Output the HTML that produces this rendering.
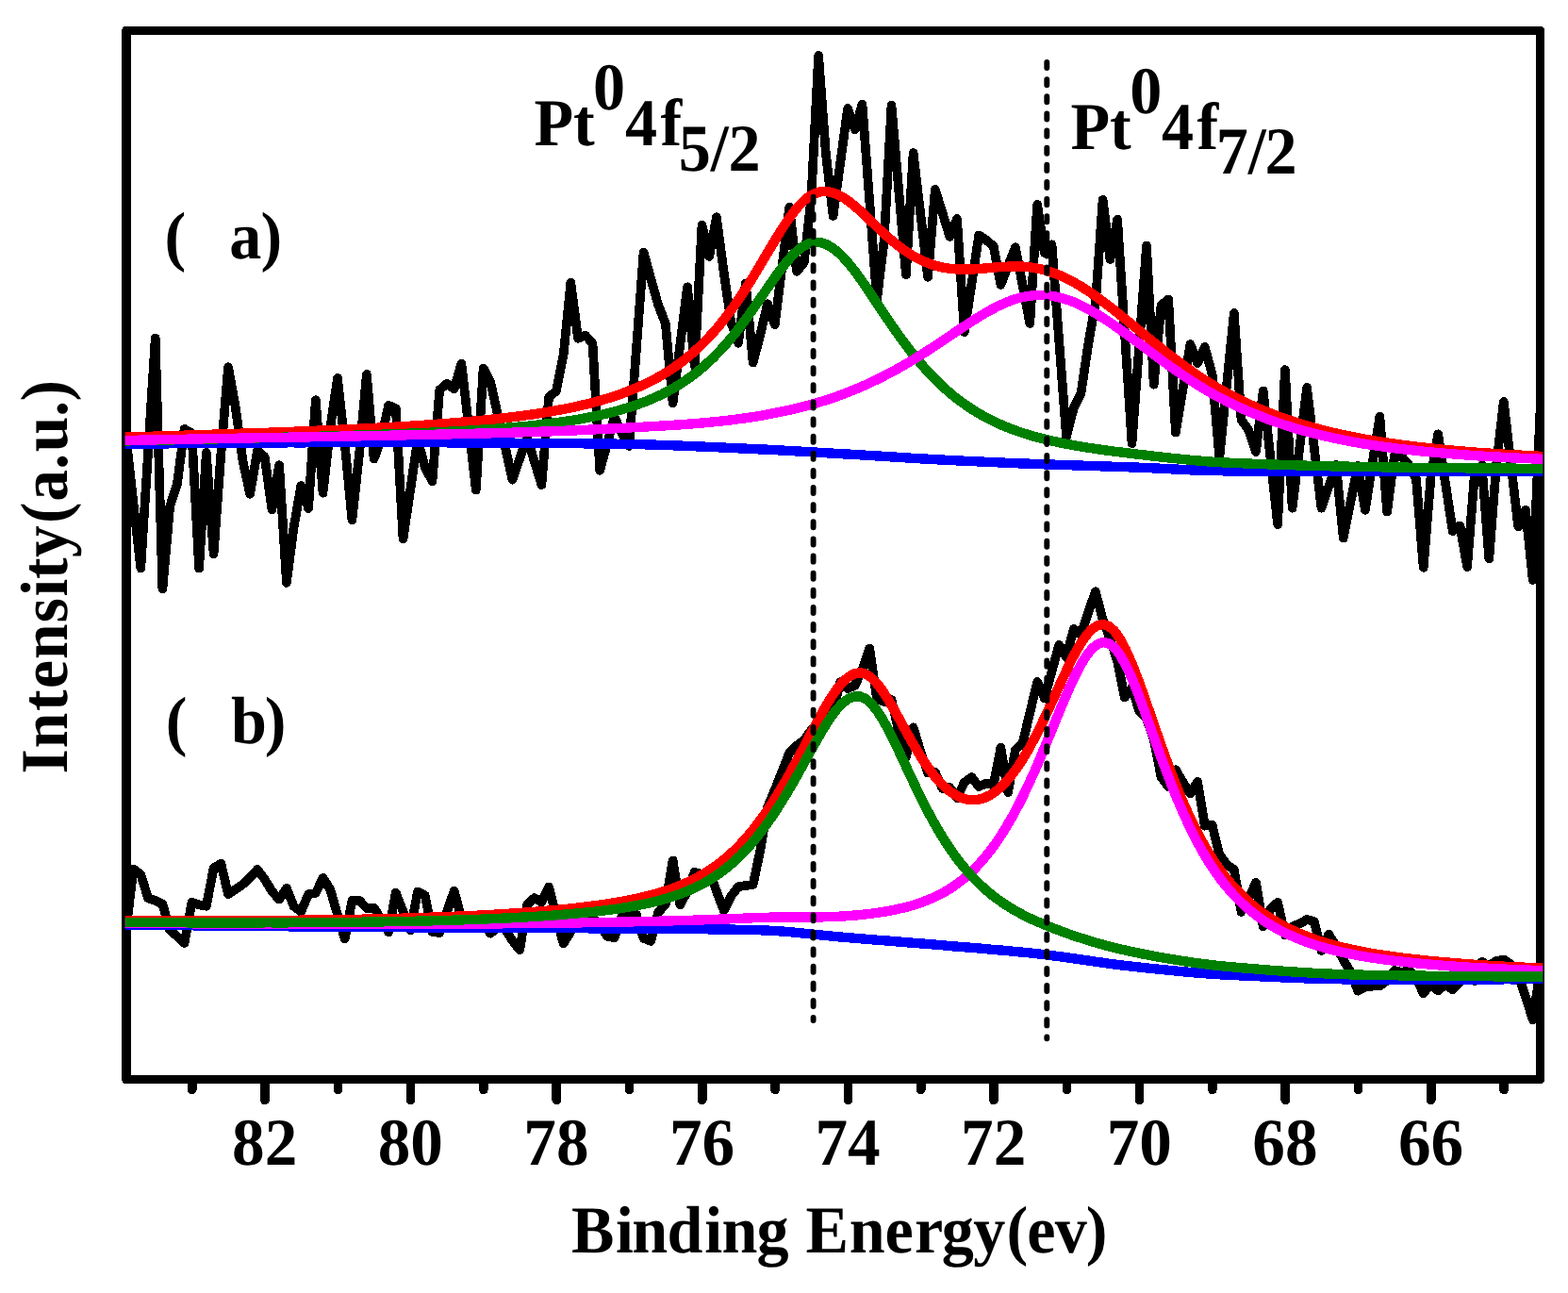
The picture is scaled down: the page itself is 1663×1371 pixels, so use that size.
<!DOCTYPE html>
<html lang="en"><head><meta charset="utf-8"><title>XPS Pt 4f spectra</title>
<style>
html,body{margin:0;padding:0;background:#fff;}
body{width:1663px;height:1371px;overflow:hidden;font-family:"Liberation Serif",serif;}
svg{display:block;}
</style></head><body>
<svg width="1663" height="1371" viewBox="0 0 1663 1371" shape-rendering="crispEdges" text-rendering="geometricPrecision">
<rect x="0" y="0" width="1663" height="1371" fill="#fff"/>
<defs><clipPath id="cp"><rect x="132.7" y="31" width="1503.5" height="1115"/></clipPath></defs>
<rect x="133.8" y="32.5" width="1499.7" height="1112" fill="none" stroke="#000" stroke-width="9.4" stroke-linejoin="round"/>
<g clip-path="url(#cp)" fill="none" stroke-linejoin="round" stroke-linecap="butt">
<polyline points="133.8,465.0 141.5,533.8 149.3,602.6 157.0,480.6 164.7,358.6 172.4,624.5 180.2,537.0 187.9,513.0 195.6,454.9 203.4,459.3 211.1,602.6 218.8,480.0 226.6,587.3 234.3,482.0 242.0,389.2 249.8,432.0 257.5,489.0 265.2,523.8 272.9,477.9 280.7,484.4 288.4,540.2 296.1,493.2 303.9,617.9 311.6,559.0 319.3,515.0 327.1,539.0 334.8,424.2 342.5,522.7 350.2,454.0 358.0,400.8 365.7,471.0 373.4,551.2 381.2,480.0 388.9,396.9 396.6,486.6 404.4,465.0 412.1,429.8 419.8,433.1 427.5,571.5 435.3,518.8 443.0,466.0 450.7,495.5 458.5,510.2 466.2,413.5 473.9,406.9 481.7,412.4 489.4,385.5 497.1,452.6 504.8,519.6 512.6,390.5 520.3,405.8 528.0,440.0 535.8,474.0 543.5,508.7 551.2,486.2 559.0,463.8 566.7,489.0 574.4,514.1 582.1,421.1 589.9,414.6 597.6,376.3 605.3,299.7 613.1,358.8 620.8,355.5 628.5,364.2 636.2,498.8 644.0,470.4 651.7,442.0 659.4,459.4 667.2,473.0 674.9,370.2 682.6,267.5 690.4,296.0 698.1,323.3 705.8,343.0 713.6,427.3 721.3,365.8 729.0,304.3 736.7,387.9 744.5,238.6 752.2,271.9 759.9,230.3 767.7,289.0 775.4,342.0 783.1,363.8 790.9,300.4 798.6,384.6 806.3,355.0 814.0,322.2 821.8,344.1 829.5,282.0 837.2,219.8 845.0,287.8 852.7,278.5 860.4,210.0 868.1,59.0 875.9,163.0 883.6,229.0 891.3,172.0 899.1,115.0 906.8,137.4 914.5,110.7 922.3,214.3 930.0,317.9 937.7,255.0 945.5,111.8 953.2,201.5 960.9,291.2 968.6,162.1 976.4,227.9 984.1,293.8 991.8,201.0 999.6,226.0 1007.3,251.0 1015.0,232.0 1022.8,352.0 1030.5,300.7 1038.2,249.4 1045.9,254.5 1053.7,261.0 1061.4,302.0 1069.1,282.0 1076.9,262.2 1084.6,302.6 1092.3,343.0 1100.1,217.0 1107.8,268.2 1115.5,259.2 1123.2,361.1 1131.0,463.0 1138.7,432.9 1146.4,417.6 1154.2,365.0 1161.9,321.3 1169.6,211.9 1177.4,274.9 1185.1,232.7 1192.8,351.4 1200.5,470.1 1208.3,365.3 1216.0,260.5 1223.7,407.7 1231.5,323.5 1239.2,317.4 1246.9,458.7 1254.7,411.9 1262.4,365.0 1270.1,385.0 1277.8,368.0 1285.6,397.0 1293.3,485.0 1301.0,408.5 1308.8,332.0 1316.5,445.0 1324.2,456.0 1332.0,479.0 1339.7,414.4 1347.4,485.3 1355.1,556.2 1362.9,392.1 1370.6,538.7 1378.3,474.9 1386.1,411.1 1393.8,474.9 1401.5,538.7 1409.2,515.9 1417.0,493.0 1424.7,570.6 1432.4,532.3 1440.2,494.0 1447.9,540.8 1455.6,491.1 1463.4,441.4 1471.1,542.5 1478.8,484.0 1486.5,484.0 1494.3,493.0 1502.0,508.0 1509.7,601.8 1517.5,506.0 1525.2,460.3 1532.9,511.8 1540.7,563.2 1548.4,557.4 1556.1,601.0 1563.9,503.0 1571.6,493.2 1579.3,592.4 1587.0,493.2 1594.8,426.0 1602.5,492.2 1610.2,558.4 1618.0,540.7 1625.7,615.0 1633.4,437.0" stroke="#000" stroke-width="9.7"/>
<polyline points="133.8,985.0 141.5,921.5 149.3,927.3 157.0,952.2 164.7,954.9 172.4,958.5 180.2,986.4 187.9,992.8 195.6,1000.0 203.4,956.7 211.1,959.4 218.8,960.8 226.6,920.6 234.3,915.5 242.0,948.2 249.8,943.0 257.5,937.7 265.2,930.5 272.9,921.9 280.7,932.3 288.4,945.0 296.1,953.6 303.9,941.7 311.6,961.0 319.3,966.6 327.1,948.2 334.8,947.1 342.5,930.9 350.2,943.1 358.0,970.0 365.7,995.5 373.4,954.9 381.2,954.9 388.9,963.0 396.6,962.6 404.4,975.0 412.1,988.4 419.8,946.6 427.5,966.5 435.3,986.4 443.0,945.5 450.7,949.5 458.5,987.9 466.2,989.1 473.9,966.9 481.7,944.6 489.4,973.8 497.1,977.0 504.8,977.0 512.6,981.0 520.3,989.7 528.0,982.8 535.8,985.5 543.5,997.3 551.2,1007.2 559.0,959.4 566.7,952.2 574.4,956.7 582.1,940.4 589.9,972.0 597.6,1000.5 605.3,988.0 613.1,975.6 620.8,972.0 628.5,972.9 636.2,981.0 644.0,992.8 651.7,994.2 659.4,972.0 667.2,969.8 674.9,969.8 682.6,995.0 690.4,997.8 698.1,967.6 705.8,958.8 713.6,912.4 721.3,959.5 729.0,945.0 736.7,924.9 744.5,927.0 752.2,923.4 759.9,945.0 767.7,965.4 775.4,950.0 783.1,940.2 790.9,939.0 798.6,938.0 806.3,902.0 814.0,856.0 821.8,837.4 829.5,818.0 837.2,798.3 845.0,790.5 852.7,785.0 860.4,774.0 868.1,768.5 875.9,766.7 883.6,754.0 891.3,723.0 899.1,730.2 906.8,726.6 914.5,710.0 922.3,687.4 930.0,741.2 937.7,744.0 945.5,742.0 953.2,775.8 960.9,802.3 968.6,771.3 976.4,797.0 984.1,819.6 991.8,818.7 999.6,836.0 1007.3,835.0 1015.0,846.0 1022.8,829.6 1030.5,824.1 1038.2,834.2 1045.9,830.5 1053.7,832.4 1061.4,792.7 1069.1,840.2 1076.9,795.0 1084.6,787.8 1092.3,755.9 1100.1,723.0 1107.8,740.4 1115.5,712.0 1123.2,683.9 1131.0,697.2 1138.7,666.9 1146.4,672.9 1154.2,649.2 1161.9,627.3 1169.6,657.0 1177.4,677.5 1185.1,701.2 1192.8,739.5 1200.5,729.0 1208.3,754.0 1216.0,762.0 1223.7,784.0 1231.5,824.0 1239.2,834.3 1246.9,816.2 1254.7,829.5 1262.4,841.6 1270.1,828.8 1277.8,875.7 1285.6,874.8 1293.3,905.8 1301.0,916.7 1308.8,922.2 1316.5,966.8 1324.2,953.0 1332.0,935.8 1339.7,982.3 1347.4,964.0 1355.1,956.8 1362.9,991.5 1370.6,982.3 1378.3,979.6 1386.1,975.0 1393.8,977.0 1401.5,1007.9 1409.2,990.7 1417.0,1003.0 1424.7,1017.8 1432.4,1030.4 1440.2,1050.7 1447.9,1046.8 1455.6,1045.7 1463.4,1045.2 1471.1,1039.7 1478.8,1029.0 1486.5,1031.0 1494.3,1029.0 1502.0,1036.6 1509.7,1053.5 1517.5,1043.0 1525.2,1050.4 1532.9,1043.8 1540.7,1049.4 1548.4,1041.3 1556.1,1036.6 1563.9,1040.0 1571.6,1019.9 1579.3,1024.0 1587.0,1019.0 1594.8,1017.5 1602.5,1022.5 1610.2,1033.5 1618.0,1057.0 1625.7,1081.2 1633.4,1030.0" stroke="#000" stroke-width="9.7"/>
<path d="M126.0,471.0 L132.0,470.9 L138.0,470.8 L144.0,470.7 L150.0,470.6 L156.0,470.6 L162.0,470.5 L168.0,470.4 L174.0,470.4 L180.0,470.3 L186.0,470.2 L192.0,470.2 L198.0,470.1 L204.0,470.1 L210.0,470.0 L216.0,470.0 L222.0,469.9 L228.0,469.8 L234.0,469.8 L240.0,469.7 L246.0,469.7 L252.0,469.7 L258.0,469.6 L264.0,469.6 L270.0,469.5 L276.0,469.5 L282.0,469.5 L288.0,469.4 L294.0,469.4 L300.0,469.4 L306.0,469.3 L312.0,469.3 L318.0,469.3 L324.0,469.3 L330.0,469.2 L336.0,469.2 L342.0,469.2 L348.0,469.2 L354.0,469.2 L360.0,469.2 L366.0,469.2 L372.0,469.1 L378.0,469.1 L384.0,469.1 L390.0,469.1 L396.0,469.1 L402.0,469.1 L408.0,469.1 L414.0,469.1 L420.0,469.1 L426.0,469.1 L432.0,469.2 L438.0,469.2 L444.0,469.2 L450.0,469.2 L456.0,469.2 L462.0,469.2 L468.0,469.3 L474.0,469.3 L480.0,469.3 L486.0,469.3 L492.0,469.4 L498.0,469.4 L504.0,469.4 L510.0,469.5 L516.0,469.5 L522.0,469.5 L528.0,469.6 L534.0,469.6 L540.0,469.6 L546.0,469.7 L552.0,469.7 L558.0,469.8 L564.0,469.8 L570.0,469.9 L576.0,469.9 L582.0,470.0 L588.0,470.0 L594.0,470.1 L600.0,470.1 L606.0,470.2 L612.0,470.2 L618.0,470.3 L624.0,470.4 L630.0,470.4 L636.0,470.5 L642.0,470.6 L648.0,470.6 L654.0,470.7 L660.0,470.8 L666.0,470.9 L672.0,471.0 L678.0,471.2 L684.0,471.3 L690.0,471.5 L696.0,471.7 L702.0,471.9 L708.0,472.1 L714.0,472.3 L720.0,472.5 L726.0,472.8 L732.0,473.0 L738.0,473.3 L744.0,473.5 L750.0,473.8 L756.0,474.1 L762.0,474.3 L768.0,474.6 L774.0,474.9 L780.0,475.2 L786.0,475.4 L792.0,475.7 L798.0,476.0 L804.0,476.3 L810.0,476.5 L816.0,476.8 L822.0,477.1 L828.0,477.5 L834.0,477.8 L840.0,478.1 L846.0,478.5 L852.0,478.8 L858.0,479.1 L864.0,479.5 L870.0,479.9 L876.0,480.2 L882.0,480.6 L888.0,480.9 L894.0,481.3 L900.0,481.6 L906.0,482.0 L912.0,482.3 L918.0,482.7 L924.0,483.0 L930.0,483.4 L936.0,483.8 L942.0,484.2 L948.0,484.5 L954.0,484.9 L960.0,485.3 L966.0,485.7 L972.0,486.0 L978.0,486.4 L984.0,486.7 L990.0,487.0 L996.0,487.4 L1002.0,487.7 L1008.0,488.0 L1014.0,488.3 L1020.0,488.6 L1026.0,488.9 L1032.0,489.1 L1038.0,489.4 L1044.0,489.7 L1050.0,490.0 L1056.0,490.2 L1062.0,490.5 L1068.0,490.8 L1074.0,491.0 L1080.0,491.3 L1086.0,491.5 L1092.0,491.7 L1098.0,492.0 L1104.0,492.2 L1110.0,492.4 L1116.0,492.6 L1122.0,492.8 L1128.0,493.0 L1134.0,493.2 L1140.0,493.4 L1146.0,493.6 L1152.0,493.8 L1158.0,494.0 L1164.0,494.2 L1170.0,494.4 L1176.0,494.6 L1182.0,494.8 L1188.0,495.0 L1194.0,495.2 L1200.0,495.4 L1206.0,495.6 L1212.0,495.9 L1218.0,496.1 L1224.0,496.4 L1230.0,496.7 L1236.0,497.0 L1242.0,497.3 L1248.0,497.6 L1254.0,497.9 L1260.0,498.2 L1266.0,498.5 L1272.0,498.7 L1278.0,498.9 L1284.0,499.1 L1290.0,499.2 L1296.0,499.3 L1302.0,499.4 L1308.0,499.4 L1314.0,499.5 L1320.0,499.5 L1326.0,499.6 L1332.0,499.6 L1338.0,499.7 L1344.0,499.7 L1350.0,499.7 L1356.0,499.8 L1362.0,499.8 L1368.0,499.8 L1374.0,499.9 L1380.0,499.9 L1386.0,499.9 L1392.0,500.0 L1398.0,500.0 L1404.0,500.0 L1410.0,500.0 L1416.0,500.0 L1422.0,500.0 L1428.0,500.0 L1434.0,500.1 L1440.0,500.1 L1446.0,500.1 L1452.0,500.1 L1458.0,500.1 L1464.0,500.1 L1470.0,500.1 L1476.0,500.1 L1482.0,500.1 L1488.0,500.1 L1494.0,500.0 L1500.0,500.0 L1506.0,500.0 L1512.0,500.0 L1518.0,500.0 L1524.0,500.0 L1530.0,500.0 L1536.0,500.0 L1542.0,500.0 L1548.0,500.0 L1554.0,500.0 L1560.0,500.0 L1566.0,499.9 L1572.0,499.9 L1578.0,499.9 L1584.0,499.9 L1590.0,499.9 L1596.0,499.9 L1602.0,499.8 L1608.0,499.8 L1614.0,499.8 L1620.0,499.8 L1626.0,499.7 L1632.0,499.7 L1638.0,499.7" stroke="#0000ff" stroke-width="10.4"/>
<path d="M126.0,463.8 L132.0,463.6 L138.0,463.4 L144.0,463.2 L150.0,463.1 L156.0,462.9 L162.0,462.7 L168.0,462.5 L174.0,462.3 L180.0,462.2 L186.0,462.0 L192.0,461.8 L198.0,461.6 L204.0,461.4 L210.0,461.2 L216.0,461.0 L222.0,460.8 L228.0,460.6 L234.0,460.4 L240.0,460.2 L246.0,460.0 L252.0,459.8 L258.0,459.6 L264.0,459.4 L270.0,459.2 L276.0,459.0 L282.0,458.8 L288.0,458.6 L294.0,458.4 L300.0,458.1 L306.0,457.9 L312.0,457.7 L318.0,457.4 L324.0,457.2 L330.0,457.0 L336.0,456.7 L342.0,456.5 L348.0,456.2 L354.0,455.9 L360.0,455.7 L366.0,455.4 L372.0,455.1 L378.0,454.8 L384.0,454.5 L390.0,454.2 L396.0,453.9 L402.0,453.6 L408.0,453.3 L414.0,452.9 L420.0,452.6 L426.0,452.2 L432.0,451.9 L438.0,451.5 L444.0,451.1 L450.0,450.7 L456.0,450.3 L462.0,449.9 L468.0,449.4 L474.0,449.0 L480.0,448.5 L486.0,448.0 L492.0,447.5 L498.0,447.0 L504.0,446.4 L510.0,445.9 L516.0,445.3 L522.0,444.6 L528.0,444.0 L534.0,443.3 L540.0,442.6 L546.0,441.9 L552.0,441.1 L558.0,440.3 L564.0,439.5 L570.0,438.6 L576.0,437.6 L582.0,436.7 L588.0,435.6 L594.0,434.5 L600.0,433.4 L606.0,432.2 L612.0,430.9 L618.0,429.5 L624.0,428.1 L630.0,426.5 L636.0,424.9 L642.0,423.1 L648.0,421.3 L654.0,419.3 L660.0,417.2 L666.0,414.9 L672.0,412.5 L678.0,410.0 L684.0,407.2 L690.0,404.3 L696.0,401.1 L702.0,397.7 L708.0,394.1 L714.0,390.2 L720.0,386.0 L726.0,381.4 L732.0,376.5 L738.0,371.3 L744.0,365.6 L750.0,359.6 L756.0,353.1 L762.0,346.1 L768.0,338.7 L774.0,330.8 L780.0,322.4 L786.0,313.6 L792.0,304.4 L798.0,294.8 L804.0,284.9 L810.0,274.8 L816.0,264.7 L822.0,254.7 L828.0,244.9 L834.0,235.7 L840.0,227.2 L846.0,219.7 L852.0,213.4 L858.0,208.5 L864.0,205.2 L870.0,203.3 L876.0,203.0 L882.0,203.9 L888.0,206.0 L894.0,209.2 L900.0,213.3 L906.0,218.0 L912.0,223.3 L918.0,228.9 L924.0,234.7 L930.0,240.5 L936.0,246.2 L942.0,251.6 L948.0,256.8 L954.0,261.6 L960.0,265.9 L966.0,269.9 L972.0,273.4 L978.0,276.4 L984.0,278.9 L990.0,281.0 L996.0,282.7 L1002.0,284.0 L1008.0,284.9 L1014.0,285.4 L1020.0,285.6 L1026.0,285.6 L1032.0,285.4 L1038.0,285.0 L1044.0,284.6 L1050.0,284.0 L1056.0,283.5 L1062.0,283.0 L1068.0,282.7 L1074.0,282.5 L1080.0,282.5 L1086.0,282.7 L1092.0,283.3 L1098.0,284.2 L1104.0,285.4 L1110.0,286.9 L1116.0,288.9 L1122.0,291.1 L1128.0,293.7 L1134.0,296.6 L1140.0,299.9 L1146.0,303.4 L1152.0,307.2 L1158.0,311.2 L1164.0,315.5 L1170.0,319.9 L1176.0,324.4 L1182.0,329.1 L1188.0,333.9 L1194.0,338.8 L1200.0,343.7 L1206.0,348.6 L1212.0,353.5 L1218.0,358.4 L1224.0,363.3 L1230.0,368.1 L1236.0,372.9 L1242.0,377.5 L1248.0,382.1 L1254.0,386.6 L1260.0,390.9 L1266.0,395.1 L1272.0,399.2 L1278.0,403.1 L1284.0,406.8 L1290.0,410.5 L1296.0,413.9 L1302.0,417.2 L1308.0,420.3 L1314.0,423.4 L1320.0,426.3 L1326.0,429.1 L1332.0,431.8 L1338.0,434.4 L1344.0,436.8 L1350.0,439.2 L1356.0,441.5 L1362.0,443.6 L1368.0,445.7 L1374.0,447.7 L1380.0,449.6 L1386.0,451.4 L1392.0,453.1 L1398.0,454.7 L1404.0,456.3 L1410.0,457.8 L1416.0,459.2 L1422.0,460.6 L1428.0,461.9 L1434.0,463.1 L1440.0,464.3 L1446.0,465.4 L1452.0,466.4 L1458.0,467.5 L1464.0,468.4 L1470.0,469.3 L1476.0,470.2 L1482.0,471.1 L1488.0,471.9 L1494.0,472.6 L1500.0,473.4 L1506.0,474.1 L1512.0,474.7 L1518.0,475.4 L1524.0,476.0 L1530.0,476.6 L1536.0,477.2 L1542.0,477.7 L1548.0,478.2 L1554.0,478.7 L1560.0,479.2 L1566.0,479.7 L1572.0,480.1 L1578.0,480.5 L1584.0,480.9 L1590.0,481.3 L1596.0,481.7 L1602.0,482.1 L1608.0,482.4 L1614.0,482.7 L1620.0,483.1 L1626.0,483.4 L1632.0,483.7 L1638.0,484.0" stroke="#ff0000" stroke-width="10.4"/>
<path d="M126.0,467.6 L132.0,467.5 L138.0,467.3 L144.0,467.2 L150.0,467.1 L156.0,466.9 L162.0,466.8 L168.0,466.7 L174.0,466.5 L180.0,466.4 L186.0,466.3 L192.0,466.2 L198.0,466.0 L204.0,465.9 L210.0,465.8 L216.0,465.6 L222.0,465.5 L228.0,465.4 L234.0,465.2 L240.0,465.1 L246.0,465.0 L252.0,464.8 L258.0,464.7 L264.0,464.6 L270.0,464.4 L276.0,464.3 L282.0,464.1 L288.0,464.0 L294.0,463.9 L300.0,463.7 L306.0,463.6 L312.0,463.4 L318.0,463.3 L324.0,463.1 L330.0,463.0 L336.0,462.8 L342.0,462.6 L348.0,462.5 L354.0,462.3 L360.0,462.1 L366.0,462.0 L372.0,461.8 L378.0,461.6 L384.0,461.4 L390.0,461.2 L396.0,461.0 L402.0,460.8 L408.0,460.6 L414.0,460.4 L420.0,460.2 L426.0,459.9 L432.0,459.7 L438.0,459.5 L444.0,459.2 L450.0,459.0 L456.0,458.7 L462.0,458.4 L468.0,458.1 L474.0,457.8 L480.0,457.5 L486.0,457.2 L492.0,456.9 L498.0,456.5 L504.0,456.1 L510.0,455.7 L516.0,455.3 L522.0,454.9 L528.0,454.5 L534.0,454.0 L540.0,453.5 L546.0,453.0 L552.0,452.4 L558.0,451.9 L564.0,451.3 L570.0,450.6 L576.0,449.9 L582.0,449.2 L588.0,448.4 L594.0,447.6 L600.0,446.8 L606.0,445.9 L612.0,444.9 L618.0,443.8 L624.0,442.7 L630.0,441.5 L636.0,440.2 L642.0,438.8 L648.0,437.4 L654.0,435.8 L660.0,434.1 L666.0,432.2 L672.0,430.3 L678.0,428.2 L684.0,426.0 L690.0,423.5 L696.0,420.9 L702.0,418.1 L708.0,415.0 L714.0,411.7 L720.0,408.1 L726.0,404.2 L732.0,400.0 L738.0,395.5 L744.0,390.6 L750.0,385.3 L756.0,379.7 L762.0,373.6 L768.0,367.1 L774.0,360.2 L780.0,352.9 L786.0,345.1 L792.0,337.1 L798.0,328.6 L804.0,320.0 L810.0,311.2 L816.0,302.5 L822.0,293.9 L828.0,285.7 L834.0,278.1 L840.0,271.2 L846.0,265.5 L852.0,261.1 L858.0,258.1 L864.0,256.7 L870.0,257.1 L876.0,258.9 L882.0,262.2 L888.0,266.7 L894.0,272.5 L900.0,279.2 L906.0,286.7 L912.0,294.9 L918.0,303.5 L924.0,312.4 L930.0,321.4 L936.0,330.4 L942.0,339.4 L948.0,348.1 L954.0,356.6 L960.0,364.8 L966.0,372.6 L972.0,380.1 L978.0,387.2 L984.0,394.0 L990.0,400.3 L996.0,406.3 L1002.0,411.8 L1008.0,417.1 L1014.0,422.0 L1020.0,426.5 L1026.0,430.7 L1032.0,434.7 L1038.0,438.3 L1044.0,441.7 L1050.0,444.9 L1056.0,447.8 L1062.0,450.5 L1068.0,453.0 L1074.0,455.3 L1080.0,457.5 L1086.0,459.5 L1092.0,461.4 L1098.0,463.1 L1104.0,464.7 L1110.0,466.2 L1116.0,467.6 L1122.0,468.9 L1128.0,470.2 L1134.0,471.3 L1140.0,472.4 L1146.0,473.4 L1152.0,474.4 L1158.0,475.3 L1164.0,476.2 L1170.0,477.1 L1176.0,477.9 L1182.0,478.7 L1188.0,479.4 L1194.0,480.2 L1200.0,480.9 L1206.0,481.6 L1212.0,482.3 L1218.0,483.0 L1224.0,483.7 L1230.0,484.4 L1236.0,485.0 L1242.0,485.7 L1248.0,486.3 L1254.0,487.0 L1260.0,487.5 L1266.0,488.1 L1272.0,488.6 L1278.0,489.1 L1284.0,489.6 L1290.0,490.0 L1296.0,490.3 L1302.0,490.6 L1308.0,490.9 L1314.0,491.1 L1320.0,491.4 L1326.0,491.6 L1332.0,491.9 L1338.0,492.1 L1344.0,492.3 L1350.0,492.5 L1356.0,492.7 L1362.0,492.9 L1368.0,493.1 L1374.0,493.3 L1380.0,493.5 L1386.0,493.7 L1392.0,493.8 L1398.0,494.0 L1404.0,494.1 L1410.0,494.3 L1416.0,494.4 L1422.0,494.5 L1428.0,494.6 L1434.0,494.8 L1440.0,494.9 L1446.0,495.0 L1452.0,495.1 L1458.0,495.2 L1464.0,495.3 L1470.0,495.4 L1476.0,495.5 L1482.0,495.5 L1488.0,495.6 L1494.0,495.7 L1500.0,495.8 L1506.0,495.9 L1512.0,495.9 L1518.0,496.0 L1524.0,496.1 L1530.0,496.1 L1536.0,496.2 L1542.0,496.2 L1548.0,496.3 L1554.0,496.3 L1560.0,496.4 L1566.0,496.4 L1572.0,496.5 L1578.0,496.5 L1584.0,496.6 L1590.0,496.6 L1596.0,496.6 L1602.0,496.6 L1608.0,496.7 L1614.0,496.7 L1620.0,496.7 L1626.0,496.7 L1632.0,496.7 L1638.0,496.8" stroke="#008000" stroke-width="10.4"/>
<path d="M126.0,467.1 L132.0,467.0 L138.0,466.9 L144.0,466.8 L150.0,466.6 L156.0,466.5 L162.0,466.4 L168.0,466.3 L174.0,466.2 L180.0,466.0 L186.0,465.9 L192.0,465.8 L198.0,465.7 L204.0,465.6 L210.0,465.5 L216.0,465.3 L222.0,465.2 L228.0,465.1 L234.0,465.0 L240.0,464.9 L246.0,464.8 L252.0,464.7 L258.0,464.6 L264.0,464.5 L270.0,464.3 L276.0,464.2 L282.0,464.1 L288.0,464.0 L294.0,463.9 L300.0,463.8 L306.0,463.7 L312.0,463.6 L318.0,463.5 L324.0,463.4 L330.0,463.3 L336.0,463.1 L342.0,463.0 L348.0,462.9 L354.0,462.8 L360.0,462.7 L366.0,462.6 L372.0,462.5 L378.0,462.4 L384.0,462.3 L390.0,462.1 L396.0,462.0 L402.0,461.9 L408.0,461.8 L414.0,461.7 L420.0,461.6 L426.0,461.4 L432.0,461.3 L438.0,461.2 L444.0,461.1 L450.0,460.9 L456.0,460.8 L462.0,460.7 L468.0,460.6 L474.0,460.4 L480.0,460.3 L486.0,460.2 L492.0,460.0 L498.0,459.9 L504.0,459.7 L510.0,459.6 L516.0,459.4 L522.0,459.3 L528.0,459.1 L534.0,458.9 L540.0,458.8 L546.0,458.6 L552.0,458.4 L558.0,458.2 L564.0,458.0 L570.0,457.8 L576.0,457.6 L582.0,457.4 L588.0,457.2 L594.0,457.0 L600.0,456.7 L606.0,456.5 L612.0,456.3 L618.0,456.0 L624.0,455.7 L630.0,455.4 L636.0,455.1 L642.0,454.8 L648.0,454.5 L654.0,454.2 L660.0,453.9 L666.0,453.6 L672.0,453.2 L678.0,452.9 L684.0,452.6 L690.0,452.2 L696.0,451.9 L702.0,451.5 L708.0,451.2 L714.0,450.8 L720.0,450.4 L726.0,450.0 L732.0,449.5 L738.0,449.1 L744.0,448.5 L750.0,448.0 L756.0,447.4 L762.0,446.8 L768.0,446.2 L774.0,445.5 L780.0,444.7 L786.0,443.9 L792.0,443.1 L798.0,442.2 L804.0,441.2 L810.0,440.2 L816.0,439.1 L822.0,437.9 L828.0,436.7 L834.0,435.4 L840.0,434.1 L846.0,432.7 L852.0,431.2 L858.0,429.6 L864.0,427.9 L870.0,426.1 L876.0,424.3 L882.0,422.3 L888.0,420.2 L894.0,418.0 L900.0,415.7 L906.0,413.3 L912.0,410.8 L918.0,408.1 L924.0,405.4 L930.0,402.5 L936.0,399.5 L942.0,396.4 L948.0,393.2 L954.0,389.9 L960.0,386.5 L966.0,382.9 L972.0,379.3 L978.0,375.5 L984.0,371.7 L990.0,367.8 L996.0,363.8 L1002.0,359.8 L1008.0,355.8 L1014.0,351.7 L1020.0,347.7 L1026.0,343.8 L1032.0,339.9 L1038.0,336.1 L1044.0,332.5 L1050.0,329.1 L1056.0,325.9 L1062.0,323.0 L1068.0,320.4 L1074.0,318.1 L1080.0,316.2 L1086.0,314.7 L1092.0,313.7 L1098.0,313.0 L1104.0,312.9 L1110.0,313.1 L1116.0,313.9 L1122.0,315.0 L1128.0,316.6 L1134.0,318.5 L1140.0,320.9 L1146.0,323.6 L1152.0,326.6 L1158.0,329.9 L1164.0,333.4 L1170.0,337.2 L1176.0,341.1 L1182.0,345.2 L1188.0,349.5 L1194.0,353.8 L1200.0,358.2 L1206.0,362.6 L1212.0,367.1 L1218.0,371.6 L1224.0,376.0 L1230.0,380.5 L1236.0,384.9 L1242.0,389.2 L1248.0,393.4 L1254.0,397.5 L1260.0,401.5 L1266.0,405.4 L1272.0,409.2 L1278.0,412.9 L1284.0,416.4 L1290.0,419.7 L1296.0,422.9 L1302.0,426.0 L1308.0,428.9 L1314.0,431.7 L1320.0,434.4 L1326.0,437.0 L1332.0,439.5 L1338.0,441.9 L1344.0,444.2 L1350.0,446.4 L1356.0,448.5 L1362.0,450.5 L1368.0,452.4 L1374.0,454.3 L1380.0,456.0 L1386.0,457.7 L1392.0,459.2 L1398.0,460.7 L1404.0,462.2 L1410.0,463.5 L1416.0,464.8 L1422.0,466.1 L1428.0,467.3 L1434.0,468.4 L1440.0,469.4 L1446.0,470.5 L1452.0,471.4 L1458.0,472.3 L1464.0,473.2 L1470.0,474.0 L1476.0,474.8 L1482.0,475.6 L1488.0,476.3 L1494.0,477.0 L1500.0,477.6 L1506.0,478.3 L1512.0,478.9 L1518.0,479.4 L1524.0,480.0 L1530.0,480.5 L1536.0,481.0 L1542.0,481.5 L1548.0,481.9 L1554.0,482.4 L1560.0,482.8 L1566.0,483.2 L1572.0,483.6 L1578.0,483.9 L1584.0,484.3 L1590.0,484.6 L1596.0,484.9 L1602.0,485.3 L1608.0,485.6 L1614.0,485.8 L1620.0,486.1 L1626.0,486.4 L1632.0,486.6 L1638.0,486.9" stroke="#ff00ff" stroke-width="10.4"/>
<path d="M126.0,980.4 L132.0,980.5 L138.0,980.5 L144.0,980.6 L150.0,980.7 L156.0,980.8 L162.0,980.8 L168.0,980.9 L174.0,981.0 L180.0,981.0 L186.0,981.1 L192.0,981.2 L198.0,981.2 L204.0,981.3 L210.0,981.4 L216.0,981.4 L222.0,981.5 L228.0,981.6 L234.0,981.6 L240.0,981.7 L246.0,981.8 L252.0,981.8 L258.0,981.9 L264.0,981.9 L270.0,982.0 L276.0,982.1 L282.0,982.1 L288.0,982.2 L294.0,982.2 L300.0,982.3 L306.0,982.3 L312.0,982.4 L318.0,982.5 L324.0,982.5 L330.0,982.6 L336.0,982.6 L342.0,982.7 L348.0,982.7 L354.0,982.8 L360.0,982.8 L366.0,982.9 L372.0,982.9 L378.0,983.0 L384.0,983.0 L390.0,983.0 L396.0,983.1 L402.0,983.1 L408.0,983.2 L414.0,983.2 L420.0,983.2 L426.0,983.3 L432.0,983.3 L438.0,983.4 L444.0,983.4 L450.0,983.4 L456.0,983.5 L462.0,983.5 L468.0,983.5 L474.0,983.5 L480.0,983.6 L486.0,983.6 L492.0,983.6 L498.0,983.7 L504.0,983.7 L510.0,983.7 L516.0,983.7 L522.0,983.8 L528.0,983.8 L534.0,983.8 L540.0,983.9 L546.0,983.9 L552.0,983.9 L558.0,983.9 L564.0,984.0 L570.0,984.0 L576.0,984.0 L582.0,984.1 L588.0,984.1 L594.0,984.1 L600.0,984.2 L606.0,984.2 L612.0,984.2 L618.0,984.3 L624.0,984.3 L630.0,984.3 L636.0,984.4 L642.0,984.4 L648.0,984.5 L654.0,984.5 L660.0,984.6 L666.0,984.6 L672.0,984.6 L678.0,984.7 L684.0,984.7 L690.0,984.8 L696.0,984.8 L702.0,984.9 L708.0,984.9 L714.0,984.9 L720.0,985.0 L726.0,985.1 L732.0,985.1 L738.0,985.2 L744.0,985.2 L750.0,985.3 L756.0,985.4 L762.0,985.4 L768.0,985.5 L774.0,985.6 L780.0,985.7 L786.0,985.8 L792.0,985.9 L798.0,986.0 L804.0,986.2 L810.0,986.4 L816.0,986.7 L822.0,987.0 L828.0,987.4 L834.0,987.9 L840.0,988.4 L846.0,989.0 L852.0,989.6 L858.0,990.2 L864.0,990.8 L870.0,991.4 L876.0,992.0 L882.0,992.6 L888.0,993.2 L894.0,993.7 L900.0,994.2 L906.0,994.7 L912.0,995.2 L918.0,995.7 L924.0,996.2 L930.0,996.7 L936.0,997.1 L942.0,997.6 L948.0,998.1 L954.0,998.6 L960.0,999.1 L966.0,999.6 L972.0,1000.0 L978.0,1000.5 L984.0,1001.0 L990.0,1001.5 L996.0,1002.0 L1002.0,1002.5 L1008.0,1003.1 L1014.0,1003.6 L1020.0,1004.1 L1026.0,1004.5 L1032.0,1005.0 L1038.0,1005.5 L1044.0,1006.0 L1050.0,1006.6 L1056.0,1007.1 L1062.0,1007.6 L1068.0,1008.1 L1074.0,1008.7 L1080.0,1009.3 L1086.0,1009.8 L1092.0,1010.4 L1098.0,1011.1 L1104.0,1011.7 L1110.0,1012.4 L1116.0,1013.2 L1122.0,1014.0 L1128.0,1014.8 L1134.0,1015.6 L1140.0,1016.5 L1146.0,1017.4 L1152.0,1018.2 L1158.0,1019.1 L1164.0,1020.0 L1170.0,1020.8 L1176.0,1021.7 L1182.0,1022.5 L1188.0,1023.2 L1194.0,1024.0 L1200.0,1024.6 L1206.0,1025.3 L1212.0,1025.9 L1218.0,1026.6 L1224.0,1027.2 L1230.0,1027.8 L1236.0,1028.4 L1242.0,1029.0 L1248.0,1029.6 L1254.0,1030.2 L1260.0,1030.7 L1266.0,1031.3 L1272.0,1031.7 L1278.0,1032.2 L1284.0,1032.6 L1290.0,1033.0 L1296.0,1033.4 L1302.0,1033.7 L1308.0,1034.0 L1314.0,1034.3 L1320.0,1034.6 L1326.0,1034.9 L1332.0,1035.1 L1338.0,1035.4 L1344.0,1035.7 L1350.0,1036.0 L1356.0,1036.2 L1362.0,1036.5 L1368.0,1036.7 L1374.0,1036.9 L1380.0,1037.2 L1386.0,1037.4 L1392.0,1037.6 L1398.0,1037.7 L1404.0,1037.9 L1410.0,1038.0 L1416.0,1038.2 L1422.0,1038.3 L1428.0,1038.4 L1434.0,1038.4 L1440.0,1038.5 L1446.0,1038.5 L1452.0,1038.5 L1458.0,1038.5 L1464.0,1038.5 L1470.0,1038.5 L1476.0,1038.5 L1482.0,1038.5 L1488.0,1038.5 L1494.0,1038.5 L1500.0,1038.5 L1506.0,1038.5 L1512.0,1038.5 L1518.0,1038.5 L1524.0,1038.5 L1530.0,1038.5 L1536.0,1038.5 L1542.0,1038.5 L1548.0,1038.5 L1554.0,1038.5 L1560.0,1038.4 L1566.0,1038.4 L1572.0,1038.4 L1578.0,1038.4 L1584.0,1038.4 L1590.0,1038.4 L1596.0,1038.3 L1602.0,1038.3 L1608.0,1038.3 L1614.0,1038.2 L1620.0,1038.2 L1626.0,1038.2 L1632.0,1038.1 L1638.0,1038.1" stroke="#0000ff" stroke-width="10.4"/>
<path d="M126.0,976.2 L132.0,976.3 L138.0,976.3 L144.0,976.3 L150.0,976.3 L156.0,976.3 L162.0,976.3 L168.0,976.3 L174.0,976.3 L180.0,976.3 L186.0,976.3 L192.0,976.3 L198.0,976.3 L204.0,976.3 L210.0,976.3 L216.0,976.3 L222.0,976.3 L228.0,976.3 L234.0,976.2 L240.0,976.2 L246.0,976.2 L252.0,976.2 L258.0,976.1 L264.0,976.1 L270.0,976.1 L276.0,976.0 L282.0,976.0 L288.0,975.9 L294.0,975.9 L300.0,975.8 L306.0,975.8 L312.0,975.7 L318.0,975.7 L324.0,975.6 L330.0,975.5 L336.0,975.4 L342.0,975.4 L348.0,975.3 L354.0,975.2 L360.0,975.1 L366.0,975.0 L372.0,974.9 L378.0,974.8 L384.0,974.7 L390.0,974.5 L396.0,974.4 L402.0,974.3 L408.0,974.1 L414.0,974.0 L420.0,973.8 L426.0,973.7 L432.0,973.5 L438.0,973.3 L444.0,973.1 L450.0,972.9 L456.0,972.7 L462.0,972.5 L468.0,972.3 L474.0,972.1 L480.0,971.8 L486.0,971.6 L492.0,971.3 L498.0,971.0 L504.0,970.8 L510.0,970.5 L516.0,970.1 L522.0,969.8 L528.0,969.5 L534.0,969.1 L540.0,968.7 L546.0,968.4 L552.0,967.9 L558.0,967.5 L564.0,967.1 L570.0,966.6 L576.0,966.1 L582.0,965.6 L588.0,965.1 L594.0,964.5 L600.0,963.9 L606.0,963.3 L612.0,962.6 L618.0,961.9 L624.0,961.2 L630.0,960.4 L636.0,959.6 L642.0,958.8 L648.0,957.8 L654.0,956.8 L660.0,955.8 L666.0,954.7 L672.0,953.5 L678.0,952.2 L684.0,950.7 L690.0,949.2 L696.0,947.6 L702.0,945.8 L708.0,943.9 L714.0,941.8 L720.0,939.5 L726.0,937.0 L732.0,934.2 L738.0,931.2 L744.0,927.9 L750.0,924.3 L756.0,920.4 L762.0,916.0 L768.0,911.3 L774.0,906.2 L780.0,900.5 L786.0,894.4 L792.0,887.8 L798.0,880.6 L804.0,872.9 L810.0,864.7 L816.0,855.9 L822.0,846.6 L828.0,836.8 L834.0,826.6 L840.0,815.8 L846.0,804.7 L852.0,793.3 L858.0,781.8 L864.0,770.4 L870.0,759.2 L876.0,748.5 L882.0,738.7 L888.0,730.1 L894.0,723.0 L900.0,717.7 L906.0,714.4 L912.0,713.2 L918.0,714.6 L924.0,718.5 L930.0,724.5 L936.0,732.5 L942.0,741.8 L948.0,752.1 L954.0,762.8 L960.0,773.8 L966.0,784.5 L972.0,794.8 L978.0,804.5 L984.0,813.4 L990.0,821.4 L996.0,828.5 L1002.0,834.5 L1008.0,839.5 L1014.0,843.3 L1020.0,846.1 L1026.0,847.8 L1032.0,848.3 L1038.0,847.7 L1044.0,846.0 L1050.0,843.1 L1056.0,839.1 L1062.0,834.0 L1068.0,827.8 L1074.0,820.5 L1080.0,812.2 L1086.0,802.8 L1092.0,792.5 L1098.0,781.2 L1104.0,769.3 L1110.0,756.7 L1116.0,743.7 L1122.0,730.5 L1128.0,717.4 L1134.0,704.8 L1140.0,693.0 L1146.0,682.5 L1152.0,673.8 L1158.0,667.2 L1164.0,663.2 L1170.0,662.0 L1176.0,664.0 L1182.0,669.2 L1188.0,677.7 L1194.0,689.0 L1200.0,702.6 L1206.0,717.8 L1212.0,734.3 L1218.0,751.4 L1224.0,768.8 L1230.0,786.0 L1236.0,802.7 L1242.0,818.9 L1248.0,834.2 L1254.0,848.7 L1260.0,862.3 L1266.0,874.9 L1272.0,886.7 L1278.0,897.5 L1284.0,907.5 L1290.0,916.7 L1296.0,925.1 L1302.0,932.8 L1308.0,939.8 L1314.0,946.3 L1320.0,952.2 L1326.0,957.6 L1332.0,962.6 L1338.0,967.2 L1344.0,971.4 L1350.0,975.2 L1356.0,978.8 L1362.0,982.1 L1368.0,985.1 L1374.0,987.9 L1380.0,990.5 L1386.0,992.9 L1392.0,995.1 L1398.0,997.2 L1404.0,999.1 L1410.0,1000.9 L1416.0,1002.5 L1422.0,1004.1 L1428.0,1005.5 L1434.0,1006.9 L1440.0,1008.1 L1446.0,1009.3 L1452.0,1010.4 L1458.0,1011.4 L1464.0,1012.3 L1470.0,1013.2 L1476.0,1014.1 L1482.0,1014.9 L1488.0,1015.7 L1494.0,1016.4 L1500.0,1017.1 L1506.0,1017.7 L1512.0,1018.4 L1518.0,1019.0 L1524.0,1019.5 L1530.0,1020.1 L1536.0,1020.6 L1542.0,1021.1 L1548.0,1021.6 L1554.0,1022.0 L1560.0,1022.5 L1566.0,1022.9 L1572.0,1023.3 L1578.0,1023.7 L1584.0,1024.0 L1590.0,1024.4 L1596.0,1024.7 L1602.0,1025.0 L1608.0,1025.3 L1614.0,1025.6 L1620.0,1025.8 L1626.0,1026.1 L1632.0,1026.3 L1638.0,1026.6" stroke="#ff0000" stroke-width="10.4"/>
<path d="M126.0,978.7 L132.0,978.7 L138.0,978.8 L144.0,978.8 L150.0,978.9 L156.0,978.9 L162.0,979.0 L168.0,979.0 L174.0,979.1 L180.0,979.1 L186.0,979.2 L192.0,979.2 L198.0,979.3 L204.0,979.3 L210.0,979.4 L216.0,979.4 L222.0,979.4 L228.0,979.5 L234.0,979.5 L240.0,979.6 L246.0,979.6 L252.0,979.6 L258.0,979.7 L264.0,979.7 L270.0,979.7 L276.0,979.7 L282.0,979.8 L288.0,979.8 L294.0,979.8 L300.0,979.8 L306.0,979.9 L312.0,979.9 L318.0,979.9 L324.0,979.9 L330.0,979.9 L336.0,980.0 L342.0,980.0 L348.0,980.0 L354.0,980.0 L360.0,980.0 L366.0,980.0 L372.0,980.0 L378.0,980.0 L384.0,980.0 L390.0,980.0 L396.0,980.0 L402.0,980.0 L408.0,980.0 L414.0,980.0 L420.0,980.0 L426.0,980.0 L432.0,979.9 L438.0,979.9 L444.0,979.9 L450.0,979.9 L456.0,979.8 L462.0,979.8 L468.0,979.8 L474.0,979.7 L480.0,979.7 L486.0,979.7 L492.0,979.6 L498.0,979.6 L504.0,979.6 L510.0,979.5 L516.0,979.5 L522.0,979.4 L528.0,979.4 L534.0,979.3 L540.0,979.2 L546.0,979.2 L552.0,979.1 L558.0,979.1 L564.0,979.0 L570.0,978.9 L576.0,978.9 L582.0,978.8 L588.0,978.7 L594.0,978.6 L600.0,978.6 L606.0,978.5 L612.0,978.4 L618.0,978.3 L624.0,978.2 L630.0,978.1 L636.0,978.0 L642.0,977.9 L648.0,977.8 L654.0,977.7 L660.0,977.6 L666.0,977.5 L672.0,977.3 L678.0,977.2 L684.0,977.1 L690.0,976.9 L696.0,976.8 L702.0,976.6 L708.0,976.5 L714.0,976.3 L720.0,976.1 L726.0,976.0 L732.0,975.8 L738.0,975.6 L744.0,975.4 L750.0,975.2 L756.0,975.0 L762.0,974.7 L768.0,974.5 L774.0,974.3 L780.0,974.1 L786.0,973.8 L792.0,973.5 L798.0,973.3 L804.0,973.0 L810.0,972.8 L816.0,972.7 L822.0,972.6 L828.0,972.5 L834.0,972.5 L840.0,972.5 L846.0,972.5 L852.0,972.5 L858.0,972.5 L864.0,972.4 L870.0,972.4 L876.0,972.2 L882.0,972.1 L888.0,971.8 L894.0,971.5 L900.0,971.1 L906.0,970.6 L912.0,970.1 L918.0,969.4 L924.0,968.7 L930.0,967.9 L936.0,967.0 L942.0,966.0 L948.0,964.8 L954.0,963.5 L960.0,962.1 L966.0,960.5 L972.0,958.6 L978.0,956.6 L984.0,954.3 L990.0,951.7 L996.0,948.8 L1002.0,945.6 L1008.0,942.0 L1014.0,937.9 L1020.0,933.4 L1026.0,928.4 L1032.0,922.8 L1038.0,916.6 L1044.0,909.8 L1050.0,902.3 L1056.0,894.2 L1062.0,885.3 L1068.0,875.6 L1074.0,865.2 L1080.0,854.0 L1086.0,842.0 L1092.0,829.3 L1098.0,816.0 L1104.0,802.0 L1110.0,787.7 L1116.0,773.0 L1122.0,758.3 L1128.0,743.9 L1134.0,729.9 L1140.0,717.0 L1146.0,705.3 L1152.0,695.6 L1158.0,688.0 L1164.0,683.1 L1170.0,681.1 L1176.0,682.3 L1182.0,686.8 L1188.0,694.6 L1194.0,705.2 L1200.0,718.1 L1206.0,732.8 L1212.0,748.7 L1218.0,765.4 L1224.0,782.2 L1230.0,798.9 L1236.0,815.2 L1242.0,830.9 L1248.0,845.9 L1254.0,860.0 L1260.0,873.2 L1266.0,885.5 L1272.0,896.9 L1278.0,907.4 L1284.0,917.1 L1290.0,926.0 L1296.0,934.2 L1302.0,941.6 L1308.0,948.4 L1314.0,954.6 L1320.0,960.3 L1326.0,965.5 L1332.0,970.2 L1338.0,974.6 L1344.0,978.6 L1350.0,982.3 L1356.0,985.6 L1362.0,988.7 L1368.0,991.6 L1374.0,994.2 L1380.0,996.7 L1386.0,998.9 L1392.0,1001.0 L1398.0,1002.9 L1404.0,1004.7 L1410.0,1006.4 L1416.0,1007.9 L1422.0,1009.3 L1428.0,1010.7 L1434.0,1011.9 L1440.0,1013.0 L1446.0,1014.1 L1452.0,1015.0 L1458.0,1016.0 L1464.0,1016.8 L1470.0,1017.6 L1476.0,1018.4 L1482.0,1019.1 L1488.0,1019.8 L1494.0,1020.4 L1500.0,1021.1 L1506.0,1021.6 L1512.0,1022.2 L1518.0,1022.7 L1524.0,1023.2 L1530.0,1023.7 L1536.0,1024.2 L1542.0,1024.6 L1548.0,1025.0 L1554.0,1025.4 L1560.0,1025.8 L1566.0,1026.1 L1572.0,1026.4 L1578.0,1026.8 L1584.0,1027.1 L1590.0,1027.4 L1596.0,1027.6 L1602.0,1027.9 L1608.0,1028.1 L1614.0,1028.4 L1620.0,1028.6 L1626.0,1028.8 L1632.0,1029.0 L1638.0,1029.2" stroke="#ff00ff" stroke-width="10.4"/>
<path d="M126.0,977.9 L132.0,978.0 L138.0,978.0 L144.0,978.1 L150.0,978.1 L156.0,978.1 L162.0,978.1 L168.0,978.2 L174.0,978.2 L180.0,978.2 L186.0,978.2 L192.0,978.3 L198.0,978.3 L204.0,978.3 L210.0,978.3 L216.0,978.3 L222.0,978.3 L228.0,978.4 L234.0,978.4 L240.0,978.4 L246.0,978.4 L252.0,978.4 L258.0,978.4 L264.0,978.4 L270.0,978.4 L276.0,978.4 L282.0,978.3 L288.0,978.3 L294.0,978.3 L300.0,978.3 L306.0,978.3 L312.0,978.2 L318.0,978.2 L324.0,978.2 L330.0,978.1 L336.0,978.1 L342.0,978.1 L348.0,978.0 L354.0,978.0 L360.0,977.9 L366.0,977.9 L372.0,977.8 L378.0,977.7 L384.0,977.7 L390.0,977.6 L396.0,977.5 L402.0,977.4 L408.0,977.3 L414.0,977.2 L420.0,977.1 L426.0,977.0 L432.0,976.9 L438.0,976.8 L444.0,976.6 L450.0,976.5 L456.0,976.4 L462.0,976.2 L468.0,976.0 L474.0,975.9 L480.0,975.7 L486.0,975.5 L492.0,975.3 L498.0,975.1 L504.0,974.9 L510.0,974.7 L516.0,974.4 L522.0,974.2 L528.0,973.9 L534.0,973.6 L540.0,973.4 L546.0,973.1 L552.0,972.7 L558.0,972.4 L564.0,972.1 L570.0,971.7 L576.0,971.3 L582.0,970.9 L588.0,970.5 L594.0,970.0 L600.0,969.5 L606.0,969.0 L612.0,968.5 L618.0,967.9 L624.0,967.3 L630.0,966.7 L636.0,966.0 L642.0,965.3 L648.0,964.5 L654.0,963.7 L660.0,962.8 L666.0,961.8 L672.0,960.7 L678.0,959.6 L684.0,958.4 L690.0,957.1 L696.0,955.6 L702.0,954.0 L708.0,952.3 L714.0,950.4 L720.0,948.3 L726.0,946.0 L732.0,943.5 L738.0,940.8 L744.0,937.8 L750.0,934.4 L756.0,930.8 L762.0,926.7 L768.0,922.3 L774.0,917.5 L780.0,912.2 L786.0,906.4 L792.0,900.2 L798.0,893.4 L804.0,886.0 L810.0,878.2 L816.0,869.9 L822.0,861.1 L828.0,851.8 L834.0,842.0 L840.0,831.8 L846.0,821.2 L852.0,810.4 L858.0,799.5 L864.0,788.7 L870.0,778.2 L876.0,768.3 L882.0,759.3 L888.0,751.5 L894.0,745.2 L900.0,740.8 L906.0,738.5 L912.0,738.4 L918.0,740.9 L924.0,745.9 L930.0,753.3 L936.0,762.6 L942.0,773.4 L948.0,785.3 L954.0,797.9 L960.0,810.8 L966.0,823.6 L972.0,836.2 L978.0,848.5 L984.0,860.2 L990.0,871.3 L996.0,881.7 L1002.0,891.5 L1008.0,900.5 L1014.0,909.0 L1020.0,916.8 L1026.0,923.9 L1032.0,930.5 L1038.0,936.6 L1044.0,942.2 L1050.0,947.3 L1056.0,952.0 L1062.0,956.3 L1068.0,960.3 L1074.0,964.0 L1080.0,967.4 L1086.0,970.6 L1092.0,973.6 L1098.0,976.3 L1104.0,978.9 L1110.0,981.4 L1116.0,983.8 L1122.0,986.1 L1128.0,988.4 L1134.0,990.5 L1140.0,992.6 L1146.0,994.5 L1152.0,996.4 L1158.0,998.3 L1164.0,1000.1 L1170.0,1001.7 L1176.0,1003.4 L1182.0,1004.9 L1188.0,1006.4 L1194.0,1007.7 L1200.0,1009.0 L1206.0,1010.3 L1212.0,1011.5 L1218.0,1012.6 L1224.0,1013.8 L1230.0,1014.9 L1236.0,1015.9 L1242.0,1016.9 L1248.0,1017.9 L1254.0,1018.9 L1260.0,1019.8 L1266.0,1020.7 L1272.0,1021.5 L1278.0,1022.3 L1284.0,1023.0 L1290.0,1023.7 L1296.0,1024.3 L1302.0,1024.9 L1308.0,1025.4 L1314.0,1026.0 L1320.0,1026.5 L1326.0,1027.0 L1332.0,1027.5 L1338.0,1028.0 L1344.0,1028.5 L1350.0,1028.9 L1356.0,1029.4 L1362.0,1029.8 L1368.0,1030.2 L1374.0,1030.6 L1380.0,1031.0 L1386.0,1031.3 L1392.0,1031.7 L1398.0,1032.0 L1404.0,1032.3 L1410.0,1032.6 L1416.0,1032.8 L1422.0,1033.0 L1428.0,1033.2 L1434.0,1033.4 L1440.0,1033.6 L1446.0,1033.7 L1452.0,1033.8 L1458.0,1033.9 L1464.0,1034.0 L1470.0,1034.1 L1476.0,1034.2 L1482.0,1034.3 L1488.0,1034.4 L1494.0,1034.5 L1500.0,1034.5 L1506.0,1034.6 L1512.0,1034.7 L1518.0,1034.8 L1524.0,1034.8 L1530.0,1034.9 L1536.0,1035.0 L1542.0,1035.0 L1548.0,1035.1 L1554.0,1035.1 L1560.0,1035.2 L1566.0,1035.2 L1572.0,1035.2 L1578.0,1035.3 L1584.0,1035.3 L1590.0,1035.3 L1596.0,1035.4 L1602.0,1035.4 L1608.0,1035.4 L1614.0,1035.4 L1620.0,1035.4 L1626.0,1035.5 L1632.0,1035.5 L1638.0,1035.5" stroke="#008000" stroke-width="10.4"/>
</g>
<g fill="none" stroke="#000" stroke-width="5.9" stroke-linecap="round" stroke-dasharray="6.1 12.03" shape-rendering="geometricPrecision">
<line x1="862.6" y1="208.8" x2="862.6" y2="1082"/>
<line x1="1110.3" y1="66" x2="1110.3" y2="1101.3"/>
</g>
<g stroke="#000" stroke-width="9.6" stroke-linecap="round"><line x1="203.7" y1="1146" x2="203.7" y2="1155.5"/><line x1="281.0" y1="1146" x2="281.0" y2="1166.5"/><line x1="358.3" y1="1146" x2="358.3" y2="1155.5"/><line x1="435.6" y1="1146" x2="435.6" y2="1166.5"/><line x1="512.9" y1="1146" x2="512.9" y2="1155.5"/><line x1="590.2" y1="1146" x2="590.2" y2="1166.5"/><line x1="667.5" y1="1146" x2="667.5" y2="1155.5"/><line x1="744.8" y1="1146" x2="744.8" y2="1166.5"/><line x1="822.1" y1="1146" x2="822.1" y2="1155.5"/><line x1="899.4" y1="1146" x2="899.4" y2="1166.5"/><line x1="976.7" y1="1146" x2="976.7" y2="1155.5"/><line x1="1054.0" y1="1146" x2="1054.0" y2="1166.5"/><line x1="1131.3" y1="1146" x2="1131.3" y2="1155.5"/><line x1="1208.6" y1="1146" x2="1208.6" y2="1166.5"/><line x1="1285.9" y1="1146" x2="1285.9" y2="1155.5"/><line x1="1363.2" y1="1146" x2="1363.2" y2="1166.5"/><line x1="1440.5" y1="1146" x2="1440.5" y2="1155.5"/><line x1="1517.8" y1="1146" x2="1517.8" y2="1166.5"/><line x1="1595.1" y1="1146" x2="1595.1" y2="1155.5"/></g>
<g font-family="'Liberation Serif', serif" font-weight="bold" font-size="71px" fill="#000">
<text transform="translate(280.7,1235) scale(0.975,1)" text-anchor="middle">82</text>
<text transform="translate(435.3,1235) scale(0.975,1)" text-anchor="middle">80</text>
<text transform="translate(589.9,1235) scale(0.975,1)" text-anchor="middle">78</text>
<text transform="translate(744.5,1235) scale(0.975,1)" text-anchor="middle">76</text>
<text transform="translate(899.1,1235) scale(0.975,1)" text-anchor="middle">74</text>
<text transform="translate(1053.7,1235) scale(0.975,1)" text-anchor="middle">72</text>
<text transform="translate(1208.3,1235) scale(0.975,1)" text-anchor="middle">70</text>
<text transform="translate(1362.9,1235) scale(0.975,1)" text-anchor="middle">68</text>
<text transform="translate(1517.5,1235) scale(0.975,1)" text-anchor="middle">66</text>
<text transform="scale(0.96,1)" x="631.3 680.1 698.3 737.1 778.3 797.4 835.9 871.4 890.2 938.3 977.7 1010.3 1040.3 1075.2 1112.1 1134.6 1165.3 1199.8" y="1328.4 1328.4 1328.4 1328.4 1328.4 1328.4 1328.4 1328.4 1328.4 1328.4 1328.4 1328.4 1328.4 1328.4 1328.4 1328.4 1328.4 1328.4">Binding Energy(ev)</text>
<text transform="translate(71,0) rotate(-90) scale(0.95,1)" x="-863.6 -834.9 -793.7 -768.4 -735.9 -695.0 -665.8 -646.4 -622.2 -584.2 -559.8 -524.0 -504.6 -465.1 -447.8" y="0.0 0.0 0.0 0.0 0.0 0.0 0.0 0.0 0.0 0.0 0.0 0.0 0.0 0.0 0.0">Intensity(a.u.)</text>
<text transform="scale(0.96,1)" x="181.9 205.5 253.5 287.9" y="274.0 274.0 274.0 274.0">( a)</text>
<text transform="scale(0.96,1)" x="183.1 206.8 255.1 292.4" y="788.0 788.0 788.0 788.0">( b)</text>
<text transform="scale(0.96,1)" x="590.0 633.4 655.2 690.5 729.6 749.7 785.2 804.6" y="154.0 154.0 116.0 154.0 154.0 180.5 180.5 180.5">Pt04f5/2</text>
<text transform="scale(0.96,1)" x="1182.8 1226.1 1248.1 1283.3 1322.5 1343.5 1378.8 1397.3" y="157.7 157.7 119.7 157.7 157.7 184.2 184.2 184.2">Pt04f7/2</text>
</g>
</svg>
</body></html>
